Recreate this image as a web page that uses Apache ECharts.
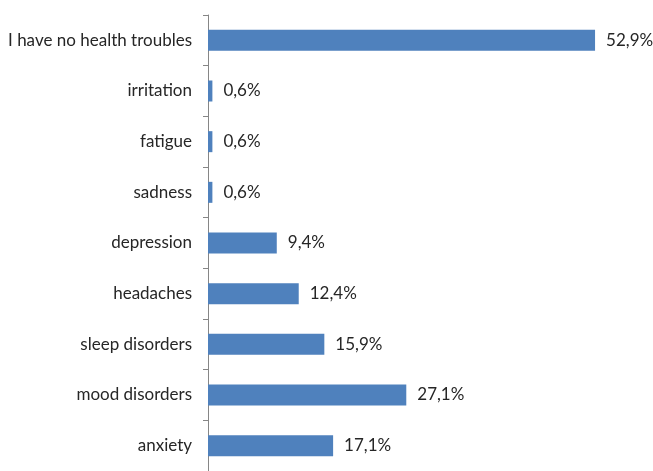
<!DOCTYPE html>
<html>
<head>
<meta charset="utf-8">
<script src="https://cdn.jsdelivr.net/npm/echarts@6/dist/echarts.min.js"></script>
<style>
  html, body { margin: 0; padding: 0; background: #fff; }
  #chart { width: 653px; height: 471px; }
</style>
</head>
<body>
<div id="chart"></div>
<script>
// Reported health troubles, listed top to bottom
const categories = [
  'I have no health troubles',
  'irritation',
  'fatigue',
  'sadness',
  'depression',
  'headaches',
  'sleep disorders',
  'mood disorders',
  'anxiety'
];
const shares = [52.9, 0.6, 0.6, 0.6, 9.4, 12.4, 15.9, 27.1, 17.1];

const chart = echarts.init(document.getElementById('chart'), null, { renderer: 'canvas' });
const font = 'Lato, "Noto Sans", sans-serif';

chart.setOption({
  animation: false,
  grid: { left: 208, right: 6, top: 15, bottom: -3, containLabel: false },
  xAxis: {
    type: 'value',
    min: 0,
    max: 60,
    show: false
  },
  yAxis: {
    type: 'category',
    data: categories,
    inverse: true,
    axisLine: { show: true, lineStyle: { color: '#868686', width: 1 } },
    axisTick: { show: true, length: 5, lineStyle: { color: '#868686' } },
    axisLabel: { margin: 16, color: '#262626', fontSize: 17, fontFamily: font }
  },
  series: [{
    type: 'bar',
    data: shares,
    barWidth: 21,
    itemStyle: { color: '#4f81bd' },
    label: {
      show: true,
      position: 'right',
      distance: 11,
      color: '#262626',
      fontSize: 17,
      fontFamily: font,
      formatter: p => p.value.toFixed(1).replace('.', ',') + '%'
    }
  }]
});
</script>
</body>
</html>
